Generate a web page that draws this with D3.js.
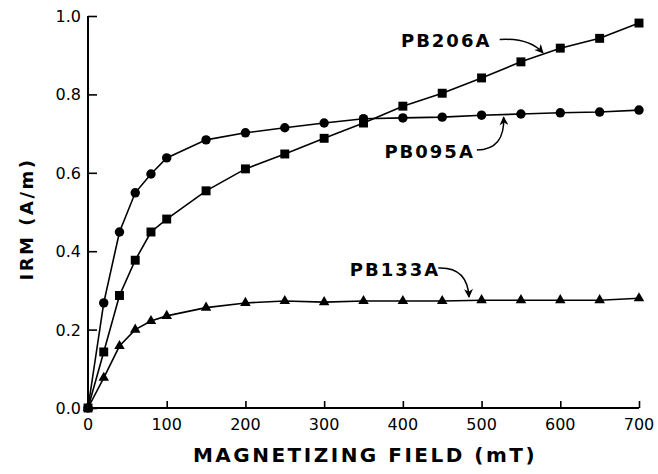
<!DOCTYPE html>
<html>
<head>
<meta charset="utf-8">
<script src="https://cdn.jsdelivr.net/npm/d3@7/dist/d3.min.js"></script>
<style>
  body { margin: 0; background: #fff; }
  text { font-family: "DejaVu Sans", "Liberation Sans", sans-serif; fill: #000; }
</style>
</head>
<body>
<div id="chart"></div>
<script>
// magnetizing field steps (mT)
var field = [0, 20, 40, 60, 80, 100, 150, 200, 250, 300, 350, 400, 450, 500, 550, 600, 650, 700]

// IRM (A/m)
var pb206a = [0, 0.143, 0.287, 0.377, 0.449, 0.482, 0.554, 0.610, 0.648, 0.688, 0.727, 0.770, 0.803, 0.842, 0.883, 0.918, 0.943, 0.982]
var pb095a = [0, 0.268, 0.449, 0.549, 0.597, 0.638, 0.684, 0.702, 0.715, 0.727, 0.738, 0.740, 0.742, 0.747, 0.750, 0.753, 0.755, 0.760]
var pb133a = [0, 0.077, 0.158, 0.200, 0.222, 0.235, 0.256, 0.268, 0.273, 0.270, 0.273, 0.273, 0.273, 0.275, 0.275, 0.275, 0.275, 0.280]

var xTicks = [0, 100, 200, 300, 400, 500, 600, 700]
var yTicks = [0, 0.2, 0.4, 0.6, 0.8, 1.0]

// label text, label anchor and arrow (start, bend, tip) in data units
var labels = [
	{name: "PB206A", at: [455, 0.939], arrow: [[523, 0.940], [560, 0.945], [578, 0.906]]},
	{name: "PB095A", at: [434, 0.656], arrow: [[494, 0.658], [530, 0.660], [528, 0.742]]},
	{name: "PB133A", at: [390, 0.355], arrow: [[445, 0.357], [482, 0.360], [484, 0.283]]}
]

var margin = {top: 16, right: 19, bottom: 66, left: 88}
var width = 658 - margin.left - margin.right
var height = 474 - margin.top - margin.bottom

var svg = d3.select("#chart").append("svg")
    .attr("width", 658)
    .attr("height", 474)

var defs = svg.append("defs")
defs.append("marker")
    .attr("id", "head")
    .attr("viewBox", "0 0 10 10")
    .attr("refX", 9)
    .attr("refY", 5)
    .attr("markerWidth", 11)
    .attr("markerHeight", 9)
    .attr("markerUnits", "userSpaceOnUse")
    .attr("orient", "auto")
    .append("path")
    .attr("d", "M0,0 L10,5 L0,10 L3,5 Z")
    .style("fill", "#000")

var g = svg.append("g")
    .attr("transform", "translate(" + margin.left + "," + margin.top + ")")

var x = d3.scaleLinear().domain([0, 700]).range([0, width])
var y = d3.scaleLinear().domain([0, 1.0]).range([height, 0])

// axes: ticks point inward
var xAxis = g.append("g")
    .attr("transform", "translate(0," + height + ")")
    .call(d3.axisTop(x).tickValues(xTicks).tickSize(7).tickFormat(""))
xAxis.select(".domain").attr("d", "M0,0H" + width).style("stroke-width", 2)
xAxis.selectAll(".tick line").style("stroke-width", 1.6)

g.selectAll(".xlab")
    .data(xTicks)
    .enter()
    .append("text")
    .attr("class", "xlab")
    .attr("x", function(d) {return x(d)})
    .attr("y", height + 22)
    .attr("text-anchor", "middle")
    .style("font-size", "16px")
    .text(function(d) {return d})

var yAxis = g.append("g")
    .call(d3.axisRight(y).tickValues(yTicks).tickSize(9).tickFormat(""))
yAxis.select(".domain").attr("d", "M0," + height + "V0").style("stroke-width", 2)
yAxis.selectAll(".tick line").style("stroke-width", 1.6)

g.selectAll(".ylab")
    .data(yTicks)
    .enter()
    .append("text")
    .attr("class", "ylab")
    .attr("x", -7)
    .attr("y", function(d) {return y(d) + 6})
    .attr("text-anchor", "end")
    .style("font-size", "16px")
    .text(function(d) {return d.toFixed(1)})

// axis titles
svg.append("text")
    .attr("x", 365)
    .attr("y", 462)
    .attr("text-anchor", "middle")
    .style("font-size", "20px")
    .style("font-weight", "bold")
    .style("letter-spacing", "2.5px")
    .text("MAGNETIZING FIELD (mT)")

svg.append("text")
    .attr("transform", "translate(33,219) rotate(-90)")
    .attr("text-anchor", "middle")
    .style("font-size", "18px")
    .style("font-weight", "bold")
    .style("letter-spacing", "2.5px")
    .text("IRM (A/m)")

// series
var series = [
	{values: pb206a, shape: d3.symbolSquare, size: 80},
	{values: pb095a, shape: d3.symbolCircle, size: 70},
	{values: pb133a, shape: d3.symbolTriangle, size: 48}
]

var line = d3.line()
    .x(function(d) {return x(d[0])})
    .y(function(d) {return y(d[1])})

series.forEach(function(s) {
	var pts = field.map(function(f, i) {return [f, s.values[i]]})
	g.append("path")
	    .datum(pts)
	    .attr("d", line)
	    .style("fill", "none")
	    .style("stroke", "#000")
	    .style("stroke-width", 1.6)
	g.selectAll(null)
	    .data(pts)
	    .enter()
	    .append("path")
	    .attr("transform", function(d) {return "translate(" + x(d[0]) + "," + y(d[1]) + ")"})
	    .attr("d", d3.symbol().type(s.shape).size(s.size))
	    .style("fill", "#000")
})

// curve labels with arrows
labels.forEach(function(l) {
	g.append("text")
	    .attr("x", x(l.at[0]))
	    .attr("y", y(l.at[1]) + 7)
	    .attr("text-anchor", "middle")
	    .style("font-size", "18px")
	    .style("font-weight", "bold")
	    .style("letter-spacing", "2px")
	    .text(l.name)
	var a = l.arrow
	var p = d3.path()
	p.moveTo(x(a[0][0]), y(a[0][1]))
	p.quadraticCurveTo(x(a[1][0]), y(a[1][1]), x(a[2][0]), y(a[2][1]))
	g.append("path")
	    .attr("d", p.toString())
	    .style("fill", "none")
	    .style("stroke", "#000")
	    .style("stroke-width", 1.5)
	    .attr("marker-end", "url(#head)")
})
</script>
</body>
</html>
